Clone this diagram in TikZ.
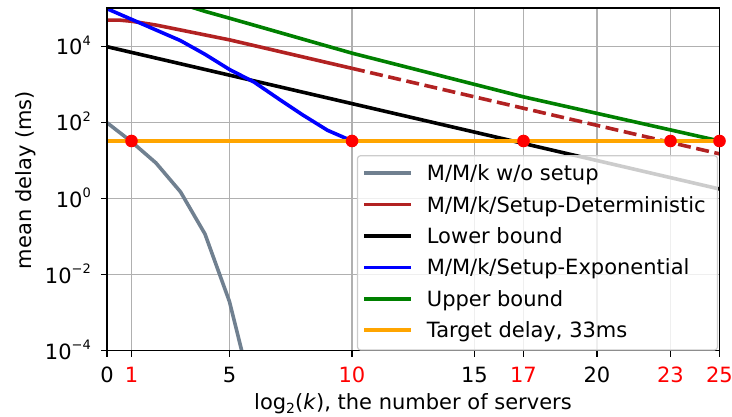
\documentclass[tikz,border=0pt]{standalone}
\usepackage{fontspec}
\setmainfont{DejaVu Sans}
\definecolor{cgray}{HTML}{708090}
\definecolor{cred}{HTML}{B22222}
\definecolor{cblue}{HTML}{0000FF}
\definecolor{cgreen}{HTML}{008000}
\definecolor{corange}{HTML}{FFA500}
\definecolor{cdot}{HTML}{FF0000}
\definecolor{cgrid}{HTML}{B0B0B0}
\definecolor{cframe}{HTML}{CCCCCC}
\newcommand{\pw}[1]{10\raisebox{9.8pt}{\fontsize{13}{13}\selectfont #1}}
\begin{document}
\begin{tikzpicture}[x=1pt,y=1pt,
  lbl/.style={font=\fontsize{21}{25}\selectfont, inner sep=0pt},
  gridline/.style={draw=cgrid, line width=1.5pt},
  tickmark/.style={draw=black, line width=1.4pt},
  curve/.style={line width=3.6pt, line join=round},
  dot/.style={circle, fill=cdot, minimum size=12.6pt, inner sep=0pt},
  legframe/.style={draw=cframe, line width=1.2pt, fill=white, fill opacity=0.8, rounded corners=3pt},
  handle/.style={line width=3.6pt}]
\useasboundingbox (0,0) rectangle (732,416);
\begin{scope}[shift={(107pt,217.3pt)}, x=24.5pt, y=38pt]
  % grid
  \foreach \gx in {1,5,10,15,17,20,23} \draw[gridline] (\gx,-4) -- (\gx,5.02);
  \foreach \gy in {-2,0,2,4} \draw[gridline] (0,\gy) -- (25,\gy);
  \begin{scope}
    \clip (0,-4) rectangle (25,5.02);
    \draw[curve, cgray] plot coordinates {(0,2.0) (1,1.5) (2,0.94) (3,0.18) (4,-0.93) (5,-2.71) (6,-5.3)};
    \draw[curve, cred] plot coordinates {(0,4.70) (0.5,4.70) (1,4.67) (2,4.57) (3,4.44) (4,4.31) (5,4.18) (6,4.03) (7,3.88) (8,3.73) (9,3.58) (10,3.43)};
    \draw[curve, cred, dash pattern=on 13pt off 5.6pt] (10,3.43) -- (25,1.18);
    \draw[curve, black] (0,4.0) -- (25,0.255);
    \draw[curve, cblue] plot coordinates {(0,5.0) (1,4.72) (2,4.44) (3,4.16) (4,3.80) (5,3.40) (6,3.07) (7,2.63) (8,2.20) (9,1.80) (10,1.52)};
    \draw[curve, cgreen] plot coordinates {(3,5.13) (4,4.93) (5,4.75) (10,3.83) (17,2.68) (25,1.52)};
    \draw[curve, corange] (0,1.5185) -- (25,1.5185);
  \end{scope}
  % axes frame
  \draw[tickmark] (0,-4) rectangle (25,5.02);
  % ticks
  \foreach \tx in {0,1,5,10,15,17,20,23,25} \draw[tickmark] (\tx,-4) -- ++(0,-6pt);
  \foreach \ty in {-4,-2,0,2,4} \draw[tickmark] (0,\ty) -- ++(-6pt,0);
  % dots
  \node[dot] (d1) at (1,1.5185) {};
  \node[dot] (d10) at (10,1.5185) {};
  \node[dot] (d17) at (17,1.5185) {};
  \node[dot] (d23) at (23,1.5185) {};
  \node[dot] (d25) at (25,1.5185) {};
\end{scope}
% x tick labels
\node[lbl, anchor=base] (x0) at (107,33.7) {0};
\node[lbl, anchor=base, text=cdot] (x1) at (131.5,33.7) {1};
\node[lbl, anchor=base] (x5) at (229.5,33.7) {5};
\node[lbl, anchor=base, text=cdot] (x10) at (352,33.7) {10};
\node[lbl, anchor=base] (x15) at (474.5,33.7) {15};
\node[lbl, anchor=base, text=cdot] (x17) at (523.5,33.7) {17};
\node[lbl, anchor=base] (x20) at (597,33.7) {20};
\node[lbl, anchor=base, text=cdot] (x23) at (670.5,33.7) {23};
\node[lbl, anchor=base, text=cdot] (x25) at (719.5,33.7) {25};
% y tick labels
\node[lbl, anchor=base east] (ym4) at (91,57.0) {\pw{−4}};
\node[lbl, anchor=base east] (ym2) at (91,133.0) {\pw{−2}};
\node[lbl, anchor=base east] (y0) at (91,209.0) {\pw{0}};
\node[lbl, anchor=base east] (y2) at (91,285.0) {\pw{2}};
\node[lbl, anchor=base east] (y4) at (91,361.0) {\pw{4}};
% axis labels
\node[lbl, anchor=base] (xlab) at (413,7) {log\raisebox{-4.7pt}{\fontsize{14}{14}\selectfont 2}(\textit{k}), the number of servers};
\node[lbl, anchor=base, rotate=90] (ylab) at (31,236) {mean delay (ms)};
% legend
\path[legframe] (357.5,66) rectangle (717.5,260.3);
\draw[handle, cgray] (364,242.7) -- (410.7,242.7);
\draw[handle, cred] (364,211.4) -- (410.7,211.4);
\draw[handle, black] (364,180.0) -- (410.7,180.0);
\draw[handle, cblue] (364,148.7) -- (410.7,148.7);
\draw[handle, cgreen] (364,117.3) -- (410.7,117.3);
\draw[handle, corange] (364,86.0) -- (410.7,86.0);
\node[lbl, anchor=base west] (l1) at (426.7,235.3) {M/M/k w/o setup};
\node[lbl, anchor=base west] (l2) at (426.7,204.0) {M/M/k/Setup-Deterministic};
\node[lbl, anchor=base west] (l3) at (426.7,172.6) {Lower bound};
\node[lbl, anchor=base west] (l4) at (426.7,141.3) {M/M/k/Setup-Exponential};
\node[lbl, anchor=base west] (l5) at (426.7,109.9) {Upper bound};
\node[lbl, anchor=base west] (l6) at (426.7,78.6) {Target delay, 33ms};
\end{tikzpicture}
\end{document}
